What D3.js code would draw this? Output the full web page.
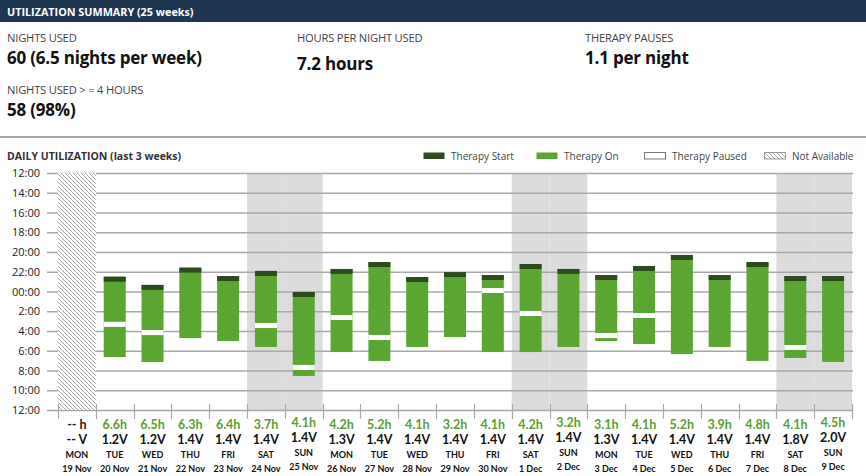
<!DOCTYPE html>
<html>
<head>
<meta charset="utf-8">
<script src="https://cdn.jsdelivr.net/npm/d3@7"></script>
<style>
  body { margin: 0; background: #fff; }
  svg { display: block; font-family: "Open Sans", sans-serif; }
</style>
</head>
<body>
<div id="chart"></div>
<script>
// Daily data (last 3 weeks)
let days = ["MON","TUE","WED","THU","FRI","SAT","SUN","MON","TUE","WED","THU","FRI","SAT","SUN","MON","TUE","WED","THU","FRI","SAT","SUN"];
let dates = ["19 Nov","20 Nov","21 Nov","22 Nov","23 Nov","24 Nov","25 Nov","26 Nov","27 Nov","28 Nov","29 Nov","30 Nov","1 Dec","2 Dec","3 Dec","4 Dec","5 Dec","6 Dec","7 Dec","8 Dec","9 Dec"];
let usageHours = [null, 6.6, 6.5, 6.3, 6.4, 3.7, 4.1, 4.2, 5.2, 4.1, 3.2, 4.1, 4.2, 3.2, 3.1, 4.1, 5.2, 3.9, 4.8, 4.1, 4.5];
let volts = [null, 1.2, 1.2, 1.4, 1.4, 1.4, 1.4, 1.3, 1.4, 1.4, 1.4, 1.4, 1.4, 1.4, 1.3, 1.4, 1.4, 1.4, 1.4, 1.8, 2.0];

// Session times (clock)
let sessionStart = [null,"22:30","23:20","21:35","22:26","21:55","00:03","21:43","21:01","22:32","22:02","22:20","21:13","21:43","22:20","21:25","20:18","22:20","21:01","22:26","22:26"];
let sessionEnd   = [null,"06:38","07:08","04:43","05:01","05:37","08:33","06:08","07:02","05:37","04:37","06:08","06:08","05:37","05:01","05:19","06:20","05:37","07:02","06:44","07:08"];
let pauseStart   = [null,"03:04","03:54",null,null,"03:11","07:26","02:23","04:24",null,null,"23:39","01:58",null,"04:12","02:11",null,null,null,"05:25",null];
let pauseEnd     = [null,"03:35","04:25",null,null,"03:42","07:57","02:53","04:55",null,null,"00:09","02:29",null,"04:43","02:41",null,null,null,"05:55",null];

let yTicks = [0, 2, 4, 6, 8, 10, 12, 14, 16, 18, 20, 22, 24]; // hours after noon

// summary
let summaryLabels = ["NIGHTS USED", "HOURS PER NIGHT USED", "THERAPY PAUSES", "NIGHTS USED > = 4 HOURS"];
let summaryValues = ["60 (6.5 nights per week)", "7.2 hours", "1.1 per night", "58 (98%)"];

let W = 866, H = 476;
let green = "#5ba633", dark = "#2f4a20", greenText = "#5a9e32";

let svg = d3.select("#chart").append("svg").attr("width", W).attr("height", H);

// hours after noon
let toH = (s) => {
  let [hh, mm] = s.split(":").map(Number);
  let h = hh + mm / 60;
  return h < 12 ? h + 12 : h - 12;
};

// Header bar
svg.append("rect").attr("x", 0).attr("y", 0).attr("width", W).attr("height", 22).attr("fill", "#1f3650");
svg.append("text").attr("x", 7).attr("y", 15.5)
  .style("font-size", "10.8px").style("font-weight", "bold").style("fill", "#fff")
  .text("UTILIZATION SUMMARY (25 weeks)");

// Summary blocks
let sumPos = [[7, 42], [297, 42], [585, 42], [7, 94]];
summaryLabels.forEach((l, i) => {
  svg.append("text").attr("x", sumPos[i][0]).attr("y", sumPos[i][1])
    .style("font-size", "11.2px").style("fill", "#444").style("letter-spacing", "-0.2px")
    .text(l);
  svg.append("text").attr("x", sumPos[i][0]).attr("y", sumPos[i][1] + (i === 1 ? 28 : 22))
    .style("font-size", "17px").style("font-weight", "bold").style("fill", "#111")
    .style("letter-spacing", "-0.2px")
    .text(summaryValues[i]);
});

// separator
svg.append("line").attr("x1", 0).attr("x2", W).attr("y1", 137).attr("y2", 137)
  .attr("stroke", "#8a8a8a").attr("stroke-width", 1.5);

svg.append("text").attr("x", 7).attr("y", 160)
  .style("font-size", "10.5px").style("font-weight", "bold").style("fill", "#333")
  .text("DAILY UTILIZATION (last 3 weeks)");

// Scales
let x = d3.scaleBand().domain(d3.range(days.length)).range([58, 852]).padding(0);
let y = d3.scaleLinear().domain([0, 24]).range([173, 410]);
let barW = 22;

// hatch pattern
let defs = svg.append("defs");
let pat = defs.append("pattern").attr("id", "hatch").attr("patternUnits", "userSpaceOnUse")
  .attr("width", 4).attr("height", 4);
pat.append("rect").attr("width", 4).attr("height", 4).attr("fill", "#fff");
pat.append("path").attr("d", "M-1,3 l2,2 M0,0 l4,4 M3,-1 l2,2")
  .attr("stroke", "#a5a5a5").attr("stroke-width", 1);

// Weekend shading
svg.append("g").selectAll("rect")
  .data(d3.range(days.length).filter((i) => days[i] === "SAT" || days[i] === "SUN"))
  .join("rect")
  .attr("x", (i) => x(i)).attr("width", x.bandwidth())
  .attr("y", y(0)).attr("height", y(24) - y(0))
  .attr("fill", "#dcdcdc");

// Gridlines + y labels
let yAxis = svg.append("g").attr("transform", "translate(47,0)")
  .call(d3.axisLeft(y).tickValues(yTicks).tickSize(-806).tickPadding(7)
    .tickFormat((h) => {
      let c = (h + 12) % 24;
      return (c === 0 ? "00" : c) + ":00";
    }));
yAxis.select(".domain").remove();
yAxis.selectAll(".tick line").attr("stroke", "#a9a9a9").attr("stroke-width", 1.6);
yAxis.selectAll(".tick text").style("font-size", "11px").style("fill", "#222")
  .style("font-family", "Open Sans, sans-serif");

// Not available columns
svg.append("g").selectAll("rect")
  .data(d3.range(days.length).filter((i) => usageHours[i] == null))
  .join("rect")
  .attr("x", (i) => x(i)).attr("width", x.bandwidth())
  .attr("y", y(0)).attr("height", y(24) - y(0))
  .attr("fill", "url(#hatch)");

// bottom ticks at column boundaries
svg.append("g").selectAll("line")
  .data(d3.range(days.length + 1))
  .join("line")
  .attr("x1", (i) => Math.round(i < days.length ? x(i) : x(i - 1) + x.bandwidth()) + 0.5)
  .attr("x2", (i) => Math.round(i < days.length ? x(i) : x(i - 1) + x.bandwidth()) + 0.5)
  .attr("y1", 404).attr("y2", 419)
  .attr("stroke", "#a9a9a9").attr("stroke-width", 1.2);

// Sessions
let sessions = d3.range(days.length).filter((i) => sessionStart[i] != null);
let bars = svg.append("g");
sessions.forEach((i) => {
  let bx = x(i) + (x.bandwidth() - barW) / 2;
  let s = y(toH(sessionStart[i])), e = y(toH(sessionEnd[i]));
  bars.append("rect").attr("x", bx).attr("width", barW).attr("y", s).attr("height", e - s).attr("fill", green);
  bars.append("rect").attr("x", bx).attr("width", barW).attr("y", s).attr("height", 5).attr("fill", dark);
  if (pauseStart[i] != null) {
    let p0 = y(toH(pauseStart[i])), p1 = y(toH(pauseEnd[i]));
    bars.append("rect").attr("x", bx).attr("width", barW).attr("y", p0).attr("height", p1 - p0).attr("fill", "#fff");
  }
});

// Bottom labels
let lab = svg.append("g").selectAll("g").data(d3.range(days.length)).join("g")
  .attr("transform", (i) => `translate(${x(i) + x.bandwidth() / 2},${days[i] === "SUN" ? -2 : 0})`)
  .style("text-anchor", "middle")
  .style("font-family", "Lato, sans-serif");
lab.append("text").attr("y", 429)
  .style("font-size", "12.5px").style("font-weight", "bold")
  .style("fill", (i) => (usageHours[i] == null ? "#222" : greenText))
  .text((i) => (usageHours[i] == null ? "-- h" : usageHours[i].toFixed(1) + "h"));
lab.append("text").attr("y", 444)
  .style("font-size", "12.5px").style("font-weight", "bold").style("fill", "#111")
  .text((i) => (volts[i] == null ? "-- V" : volts[i].toFixed(1) + "V"));
lab.append("text").attr("y", 458)
  .style("font-size", "9px").style("font-weight", "bold").style("fill", "#111")
  .text((i) => days[i]);
lab.append("text").attr("y", 472)
  .style("font-size", "9px").style("font-weight", "bold").style("fill", "#111")
  .text((i) => dates[i]);

// Legend
let legendItems = [
  { name: "Therapy Start", x: 423, fill: dark, stroke: "none" },
  { name: "Therapy On", x: 536, fill: green, stroke: "none" },
  { name: "Therapy Paused", x: 644, fill: "#fff", stroke: "#777" },
  { name: "Not Available", x: 764, fill: "url(#hatch)", stroke: "#999" },
];
let legend = svg.append("g").selectAll("g").data(legendItems).join("g")
  .attr("transform", (d) => `translate(${d.x},152)`);
legend.append("rect").attr("x", 0.5).attr("y", 0.5).attr("width", 21).attr("height", 6.5)
  .attr("fill", (d) => d.fill).attr("stroke", (d) => d.stroke);
legend.append("text").attr("x", 28).attr("y", 7.5)
  .style("font-size", "10px").style("fill", "#444")
  .text((d) => d.name);
</script>
</body>
</html>
